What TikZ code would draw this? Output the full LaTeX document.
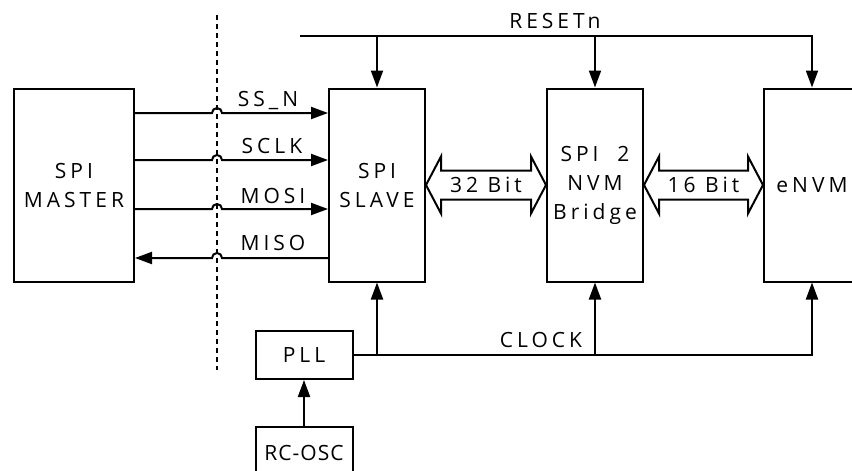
\documentclass[tikz,border=0pt]{standalone}
\usepackage{fontspec}
\setmainfont{Open Sans}[LetterSpace=19]
\newfontfamily\plainfont{Open Sans}[LetterSpace=5]
\usetikzlibrary{arrows.meta, calc}

\tikzset{
  block/.style={draw, line width=2pt, minimum width=96pt, minimum height=193pt, align=center, inner sep=0pt},
  smallblock/.style={draw, line width=2pt, minimum width=97pt, minimum height=48pt, inner sep=0pt},
  sig/.style={line width=2pt, -{Triangle[length=17pt,width=12pt]}},
  wire/.style={line width=2pt},
  bus/.style={line width=2pt, line join=miter},
  lbl/.style={inner sep=0pt, anchor=base},
}

\begin{document}
\begin{tikzpicture}[x=1pt, y=-1pt, font=\fontsize{21}{29}\selectfont]
            \clip (0,0) rectangle (852,471);
            % blocks
            \node[block, minimum width=120pt] (master) at (74,185) {SPI\\MASTER};
            \node[block] (slave) at (377,185) {SPI\\SLAVE};
            \node[block] (bridge) at (595,185) {SPI\ \ 2\\NVM\\Bridge};
            \node[block] (envm) at (812,185) {eNVM};
            \node[smallblock] (pll) at (304,355) {PLL};
            \node[smallblock, minimum height=52pt] (rcosc) at (304,453) {\plainfont RC-OSC};
            % boundary
            \draw[wire, dash pattern=on 5pt off 4pt] (217,15) -- (217,370);
            % spi signals
            \draw[sig] (master.east |- 0,113) -- (212,113) arc[start angle=180, end angle=360, radius=5] -- (slave.west |- 0,113);
            \draw[sig] (master.east |- 0,160) -- (212,160) arc[start angle=180, end angle=360, radius=5] -- (slave.west |- 0,160);
            \draw[sig] (master.east |- 0,209) -- (212,209) arc[start angle=180, end angle=360, radius=5] -- (slave.west |- 0,209);
            \draw[sig] (slave.west |- 0,258) -- (222,258) arc[start angle=0, end angle=-180, radius=5] -- (master.east |- 0,258);
            \node[lbl] (ssn) at (268,106) {SS\_N};
            \node[lbl] (sclk) at (272,153) {SCLK};
            \node[lbl] (mosi) at (273,203) {MOSI};
            \node[lbl] (miso) at (273,250) {MISO};
            % buses
            \draw[bus] (slave.east) -- ++(15,-28.5) -- ++(0,14) -- ($(bridge.west)+(-15,-14.5)$) -- ++(0,-14)
                -- (bridge.west) -- ++(-15,28.5) -- ++(0,-14) -- ($(slave.east)+(15,14.5)$) -- ++(0,14) -- cycle;
            \node[inner sep=0pt] (b32) at ($(slave.east)!0.5!(bridge.west)$) {32 Bit};
            \draw[bus] (bridge.east) -- ++(15,-28.5) -- ++(0,14) -- ($(envm.west)+(-15,-14.5)$) -- ++(0,-14)
                -- (envm.west) -- ++(-15,28.5) -- ++(0,-14) -- ($(bridge.east)+(15,14.5)$) -- ++(0,14) -- cycle;
            \node[inner sep=0pt] (b16) at ($(bridge.east)!0.5!(envm.west)$) {16 Bit};
            % reset
            \coordinate (rst) at (300,36);
            \draw[sig] (rst) -| (envm.north);
            \draw[sig] (rst -| slave.north) -- (slave.north);
            \draw[sig] (rst -| bridge.north) -- (bridge.north);
            \node[lbl] (rstn) at (555,28) {RESETn};
            % clock
            \draw[sig] (pll.east) -| (envm.south);
            \draw[sig] (pll.east -| slave.south) -- (slave.south);
            \draw[sig] (pll.east -| bridge.south) -- (bridge.south);
            \node[lbl] (clk) at (541,347) {CLOCK};
            \draw[sig] (rcosc.north) -- (pll.south);
        \end{tikzpicture}
\end{document}
